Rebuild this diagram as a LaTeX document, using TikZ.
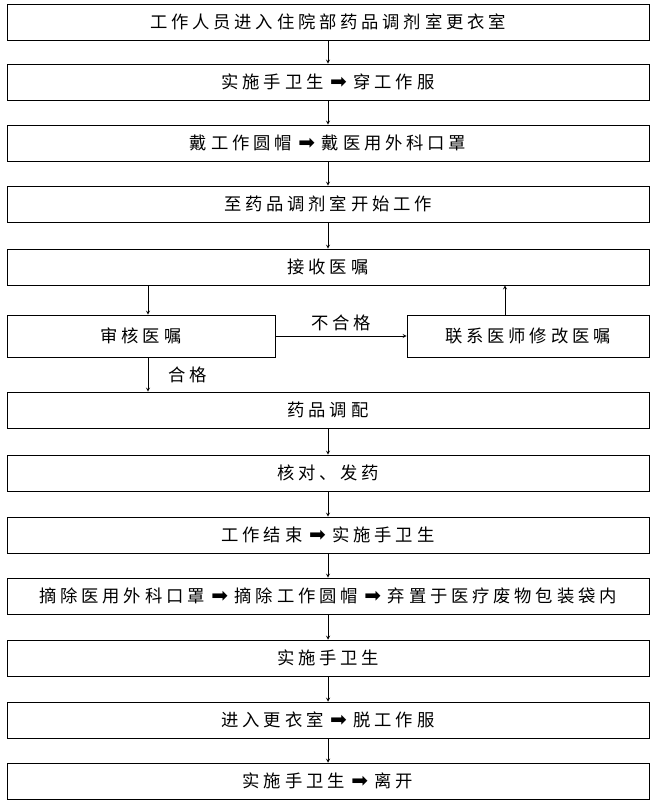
\documentclass[tikz,border=0pt]{standalone}
\usepackage{fontspec}
\setmainfont{Noto Sans CJK SC}[LetterSpace=22]
\newfontfamily\sym{DejaVu Sans}
\newcommand{\thick}{\hspace{5pt}{\sym\fontsize{15}{15}\selectfont ➡}\hspace{5pt}}
\begin{document}
\begin{tikzpicture}[x=0.75pt, y=-0.75pt, font=\fontsize{13}{15}\selectfont,
    stepbox/.style={draw, rectangle, minimum width=642pt*0.75, minimum height=36pt*0.75, inner sep=0pt},
    halfbox/.style={draw, rectangle, minimum height=42pt*0.75, inner sep=0pt},
    >=stealth]
        \useasboundingbox (0,0) rectangle (651,806);

        % Caselle principali
        \node[stepbox] at (328, 22) (enter) {工作人员进入住院部药品调剂室更衣室};
        \node[stepbox] at (328, 82) (wash) {实施手卫生\thick 穿工作服};
        \node[stepbox] at (328, 143) (cap) {戴工作圆帽\thick 戴医用外科口罩};
        \node[stepbox] at (328, 204) (start) {至药品调剂室开始工作};
        \node[stepbox] at (328, 267) (receive) {接收医嘱};

        % Caselle di verifica
        \node[halfbox, minimum width=268pt*0.75] at (141, 336) (check) {审核医嘱\hspace{60pt}};
        \node[halfbox, minimum width=242pt*0.75] at (528, 336) (contact) {联系医师修改医嘱};

        \node[stepbox] at (328, 410) (dispense) {药品调配};
        \node[stepbox] at (328, 473) (verify) {核对、发药};
        \node[stepbox] at (328, 535) (finish) {工作结束\thick 实施手卫生};
        \node[stepbox] at (328, 596) (remove) {摘除医用外科口罩\thick 摘除工作圆帽\thick 弃置于医疗废物包装袋内};
        \node[stepbox] at (328, 658) (wash2) {实施手卫生};
        \node[stepbox] at (328, 720) (change) {进入更衣室\thick 脱工作服};
        \node[stepbox] at (328, 781) (leave) {实施手卫生\thick 离开};

        % Frecce
        \draw[->] (enter) -- (wash);
        \draw[->] (wash) -- (cap);
        \draw[->] (cap) -- (start);
        \draw[->] (start) -- (receive);
        \draw[->] (receive.south -| check.north) ++(7,0) -- ([xshift=7pt*0.75]check.north);
        \draw[->] (check.east) -- (contact.west) node[midway, above] {不合格};
        \draw[->] ([xshift=-23pt*0.75]contact.north) -- ([xshift=-23pt*0.75]contact.north |- receive.south);
        \draw[->] ([xshift=7pt*0.75]check.south) -- ([xshift=7pt*0.75]check.south |- dispense.north)
            node[midway, right=12pt] {合格};
        \draw[->] (dispense) -- (verify);
        \draw[->] (verify) -- (finish);
        \draw[->] (finish) -- (remove);
        \draw[->] (remove) -- (wash2);
        \draw[->] (wash2) -- (change);
        \draw[->] (change) -- (leave);
    \end{tikzpicture}
\end{document}
